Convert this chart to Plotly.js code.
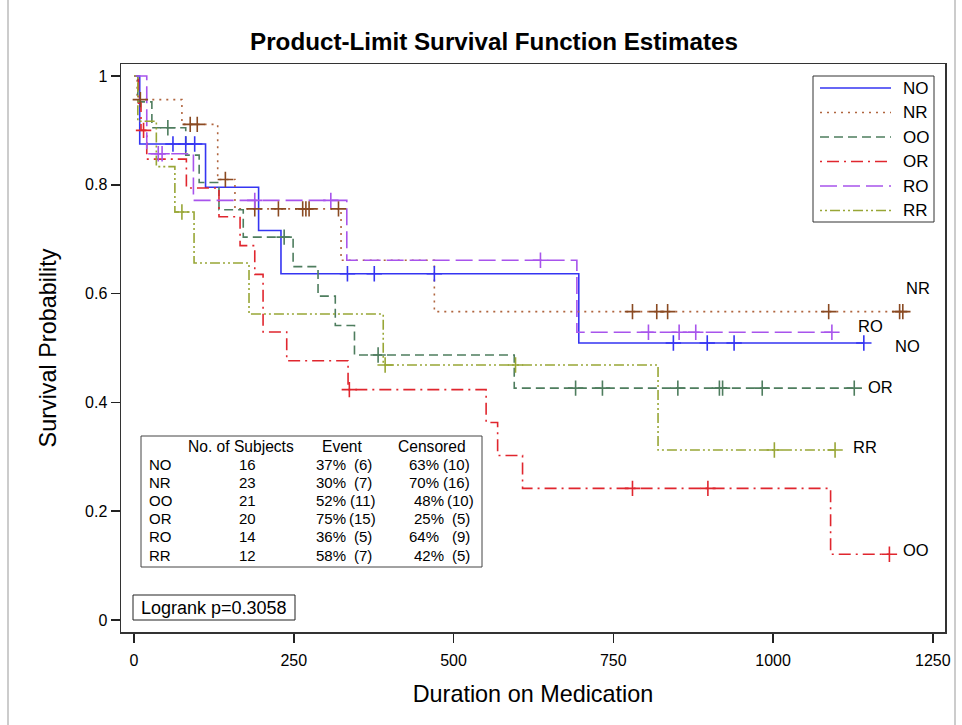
<!DOCTYPE html>
<html><head><meta charset="utf-8">
<script src="https://cdn.plot.ly/plotly-3.0.1.min.js"></script>
<style>html,body{margin:0;padding:0;background:#fff}#chart{width:962px;height:725px}</style>
</head><body><div id="chart"></div>
<script>
// ---------------- DATA ----------------
const groups = ['NO', 'NR', 'OO', 'OR', 'RO', 'RR'];

const NO_eventT = [9, 112, 195, 230, 696];
const NO_surv   = [0.875, 0.7955, 0.7159, 0.6364, 0.5091];
const NO_censT  = [61, 81, 95, 334, 376, 470, 844, 897, 939, 1142];

const NR_eventT = [5, 75, 131, 158, 324, 470];
const NR_surv   = [0.9565, 0.9110, 0.8098, 0.7558, 0.6613, 0.5668];
const NR_censT  = [10, 88, 99, 143, 189, 226, 264, 269, 274, 320, 780, 818, 835, 1087, 1198, 1203];

const OO_eventT = [6, 28, 81, 102, 133, 171, 249, 288, 315, 345, 595];
const OO_surv   = [0.9524, 0.9048, 0.8545, 0.8042, 0.7540, 0.7037, 0.6496, 0.5954, 0.5413, 0.4872, 0.4263];
const OO_censT  = [53, 235, 382, 691, 733, 851, 916, 921, 983, 1127];

const OR_eventT = [7, 11, 20, 82, 133, 166, 189, 202, 239, 335, 551, 569, 608, 1090];
const OR_surv   = [0.95, 0.90, 0.8471, 0.7941, 0.7412, 0.6882, 0.6353, 0.5294, 0.4765, 0.4235, 0.3630, 0.3025, 0.2420, 0.1210];
const OR_censT  = [15, 337, 780, 898, 1182];

const RO_eventT = [20, 93, 333, 693];
const RO_surv   = [0.8571, 0.7714, 0.6612, 0.5290];
const RO_censT  = [38, 44, 189, 308, 636, 805, 853, 879, 1092];

const RR_eventT = [6, 35, 64, 94, 180, 390, 820];
const RR_surv   = [0.9167, 0.8333, 0.75, 0.6563, 0.5625, 0.4688, 0.3125];
const RR_censT  = [75, 393, 597, 1002, 1097];

// summary table
const tblSubjects = ['16', '23', '21', '20', '14', '12'];
const tblEventPct = ['37%', '30%', '52%', '75%', '36%', '58%'];
const tblEventN   = ['(6)', '(7)', '(11)', '(15)', '(5)', '(7)'];
const tblCensPct  = ['63%', '70%', '48%', '25%', '64%', '42%'];
const tblCensN    = ['(10)', '(16)', '(10)', '(5)', '(9)', '(5)'];
const logrankText = 'Logrank p=0.3058';

// curve-end labels (as printed on the reference)
const endLabels = ['NR', 'RO', 'NO', 'OR', 'RR', 'OO'];

// ---------------- STYLE / LAYOUT ----------------
const FONT = 'Liberation Sans, Arial, sans-serif';
const series = {
  NO: {t: NO_eventT, s: NO_surv, c: NO_censT, color: '#3535F2', mcolor: '#3535F2', dash: 'solid'},
  NR: {t: NR_eventT, s: NR_surv, c: NR_censT, color: '#B0653F', mcolor: '#8A4A22', dash: '2px,5px'},
  OO: {t: OO_eventT, s: OO_surv, c: OO_censT, color: '#4E7D5E', mcolor: '#4E7D5E', dash: '9px,5px'},
  OR: {t: OR_eventT, s: OR_surv, c: OR_censT, color: '#E0262E', mcolor: '#E0262E', dash: '2px,5px,12px,5px'},
  RO: {t: RO_eventT, s: RO_surv, c: RO_censT, color: '#A854EC', mcolor: '#A854EC', dash: '17px,6px'},
  RR: {t: RR_eventT, s: RR_surv, c: RR_censT, color: '#98A636', mcolor: '#98A636', dash: '2px,3px,2px,3px,10px,3px'}
};

// plot area in pixels
const PL = 121, PR = 945, PT = 64, PB = 632;
const px = v => (v - PL) / (PR - PL);
const py = v => (PB - v) / (PB - PT);

const traces = [];
groups.forEach(g => {
  const d = series[g];
  const lastT = Math.max(d.t[d.t.length - 1], Math.max(...d.c));
  const xs = [0].concat(d.t, [lastT]);
  const ys = [1].concat(d.s, [d.s[d.s.length - 1]]);
  traces.push({
    type: 'scatter', mode: 'lines', name: g, x: xs, y: ys,
    line: {shape: 'hv', color: d.color, width: 1.6, dash: d.dash},
    hoverinfo: 'skip'
  });
});
groups.forEach(g => {
  const d = series[g];
  const cy = d.c.map(t => {
    let v = 1;
    d.t.forEach((et, i) => { if (et <= t) v = d.s[i]; });
    return v;
  });
  traces.push({
    type: 'scatter', mode: 'markers', name: g + ' censored', x: d.c, y: cy,
    hoverinfo: 'skip',
    marker: {symbol: 'cross-thin', size: 11, color: d.mcolor, line: {color: d.mcolor, width: 1.6}}
  });
});

const annotations = [];
const shapes = [];

// legend (box, line samples, labels)
shapes.push({type: 'rect', xref: 'paper', yref: 'paper', x0: px(813), x1: px(934), y0: py(222), y1: py(76),
  line: {color: '#333', width: 1}, fillcolor: '#fff', layer: 'above'});
groups.forEach((g, i) => {
  const yy = 88 + i * 24.5;
  shapes.push({type: 'line', xref: 'paper', yref: 'paper', x0: px(820), x1: px(891), y0: py(yy), y1: py(yy),
    line: {color: series[g].color, width: 1.6, dash: series[g].dash}, layer: 'above'});
  annotations.push({xref: 'paper', yref: 'paper', x: px(901), y: py(yy), xanchor: 'left', yanchor: 'middle',
    text: g, showarrow: false, font: {family: FONT, size: 17, color: '#000'}});
});

// end labels positions (pixel centres)
const endPos = [[918, 288], [870, 326], [907, 346], [880, 387], [865, 447], [916, 550]];
endLabels.forEach((lab, i) => {
  annotations.push({xref: 'paper', yref: 'paper', x: px(endPos[i][0]), y: py(endPos[i][1]),
    xanchor: 'center', yanchor: 'middle', text: lab, showarrow: false,
    font: {family: FONT, size: 16.5, color: '#000'}});
});

// table box
shapes.push({type: 'rect', xref: 'paper', yref: 'paper', x0: px(141), x1: px(482), y0: py(567), y1: py(436),
  line: {color: '#444', width: 1}, fillcolor: 'rgba(0,0,0,0)'});
const hf = {family: FONT, size: 15.6, color: '#000'};
const tf = {family: FONT, size: 15, color: '#000'};
const hdrY = 446, rowY0 = 464, rowDY = 18.2;
[['No. of Subjects', 241], ['Event', 342], ['Censored', 432]].forEach(h => {
  annotations.push({xref: 'paper', yref: 'paper', x: px(h[1]), y: py(hdrY), xanchor: 'center', yanchor: 'middle',
    text: h[0], showarrow: false, font: hf});
});
const censPctX = [407, 407, 412, 412, 407, 412];
const censNX = [472, 472, 476, 472, 472, 472];
const evNX = [374, 374, 378, 378, 374, 374];
groups.forEach((g, i) => {
  const y = py(rowY0 + i * rowDY);
  const add = (txt, x, anchor) => annotations.push({xref: 'paper', yref: 'paper', x: px(x), y: y,
    xanchor: anchor, yanchor: 'middle', text: txt, showarrow: false, font: tf});
  add(g, 147, 'left');
  add(tblSubjects[i], 247, 'center');
  add(tblEventPct[i], 314, 'left');
  add(tblEventN[i], evNX[i], 'right');
  add(tblCensPct[i], censPctX[i], 'left');
  add(tblCensN[i], censNX[i], 'right');
});

// logrank box
shapes.push({type: 'rect', xref: 'paper', yref: 'paper', x0: px(133), x1: px(295), y0: py(620), y1: py(595),
  line: {color: '#222', width: 1}, fillcolor: 'rgba(0,0,0,0)'});
annotations.push({xref: 'paper', yref: 'paper', x: px(139), y: py(608), xanchor: 'left', yanchor: 'middle',
  text: logrankText, showarrow: false, font: {family: FONT, size: 18, color: '#000'}});

// outer frame lines
shapes.push({type: 'line', xref: 'paper', yref: 'paper', x0: px(8), x1: px(8), y0: py(0), y1: py(725), line: {color: '#999', width: 1}});
shapes.push({type: 'line', xref: 'paper', yref: 'paper', x0: px(955), x1: px(955), y0: py(0), y1: py(725), line: {color: '#999', width: 1}});

const layout = {
  width: 962, height: 725,
  margin: {l: PL, r: 962 - PR, t: PT, b: 725 - PB, pad: 0},
  paper_bgcolor: '#fff', plot_bgcolor: '#fff',
  font: {family: FONT, color: '#000'},
  showlegend: false,
  title: {text: 'Product-Limit Survival Function Estimates', x: 494 / 962, xref: 'container', xanchor: 'center',
    y: 1 - 42 / 725, yref: 'container', yanchor: 'middle',
    font: {family: FONT, size: 24.2, color: '#000', weight: 700}},
  xaxis: {range: [-20.3, 1269], tick0: 0, dtick: 250, ticks: 'outside', ticklen: 9, tickwidth: 1.5, tickcolor: '#222',
    tickfont: {family: FONT, size: 16, color: '#000'}, ticklabelstandoff: 4,
    showline: true, mirror: true, linecolor: '#333', linewidth: 1.5, showgrid: false, zeroline: false,
    title: {text: 'Duration on Medication', font: {family: FONT, size: 23.4, color: '#000'}, standoff: 18}},
  yaxis: {range: [-0.022, 1.022], tick0: 0, dtick: 0.2, ticks: 'outside', ticklen: 9, tickwidth: 1.5, tickcolor: '#222',
    tickfont: {family: FONT, size: 16, color: '#000'},
    showline: true, mirror: true, linecolor: '#333', linewidth: 1.5, showgrid: false, zeroline: false,
    title: {text: 'Survival Probability', font: {family: FONT, size: 23.4, color: '#000'}, standoff: 22}},
  annotations: annotations,
  shapes: shapes
};

Plotly.newPlot('chart', traces, layout, {staticPlot: true, displayModeBar: false});
</script>
</body></html>
